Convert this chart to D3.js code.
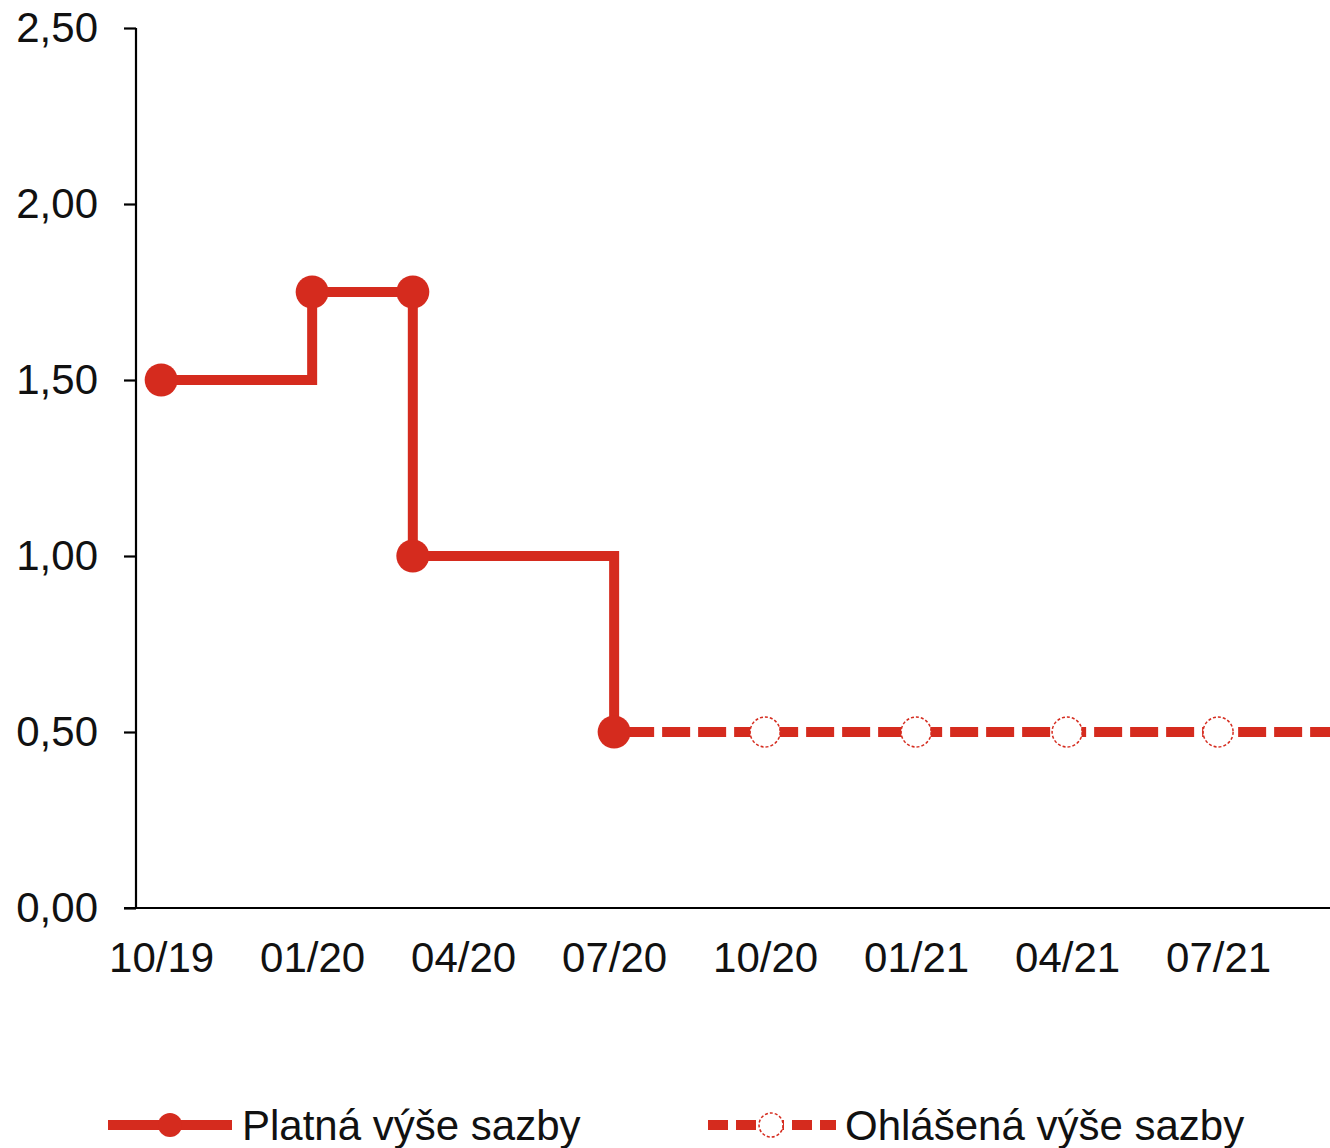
<!DOCTYPE html>
<html>
<head>
<meta charset="utf-8">
<script src="https://cdn.jsdelivr.net/npm/d3@7"></script>
<style>
  html, body { margin: 0; padding: 0; background: #fff; }
  svg { display: block; font-family: "Liberation Sans", Arial, sans-serif; }
</style>
</head>
<body>
<script>
// ---- data ----
const tickMonths = [0, 3, 6, 9, 12, 15, 18, 21];
const tickLabels = ["10/19", "01/20", "04/20", "07/20", "10/20", "01/21", "04/21", "07/21"];
const yTicks = [0, 0.5, 1.0, 1.5, 2.0, 2.5];

// valid rate (month index from 10/2019)
const platnaMonths = [0, 3, 5, 5, 9];
const platnaValues = [1.50, 1.75, 1.75, 1.00, 0.50];
const platnaMarkers = [0, 1, 2, 3, 4];

// announced rate
const ohlasenaMonths = [9, 12, 15, 18, 21, 23.5];
const ohlasenaValues = [0.50, 0.50, 0.50, 0.50, 0.50, 0.50];
const ohlasenaMarkerMonths = [12, 15, 18, 21];

const seriesNames = ["Platná výše sazby", "Ohlášená výše sazby"];

// ---- layout ----
const W = 1330, H = 1148;
const RED = "#d52b1e";
const FS = 42;
const svg = d3.select("body").append("svg").attr("width", W).attr("height", H);

const x = d3.scaleLinear().domain([-0.5, 23.5]).range([136, 136 + 24 * 50.33]);
const y = d3.scaleLinear().domain([0, 2.5]).range([908, 28]);

// y axis
const yAxis = d3.axisLeft(y).tickValues(yTicks).tickSize(12).tickPadding(26)
  .tickFormat(d => d3.format(".2f")(d).replace(".", ","));
const gy = svg.append("g").attr("transform", `translate(${x(-0.5)},0)`).call(yAxis);
gy.select(".domain").attr("stroke", "#000").attr("stroke-width", 2.2).attr("d", `M0,${y(2.5)}V${y(0)}`);
gy.selectAll(".tick line").attr("stroke", "#000").attr("stroke-width", 2.2);
gy.selectAll(".tick text").attr("font-size", FS).attr("fill", "#111")
  .attr("font-family", "Liberation Sans, Arial, sans-serif");

// x axis
const xAxis = d3.axisBottom(x).tickValues(tickMonths).tickSize(0).tickPadding(34)
  .tickFormat((d, i) => tickLabels[i]);
const gx = svg.append("g").attr("transform", `translate(0,${y(0)})`).call(xAxis);
gx.select(".domain").attr("stroke", "#000").attr("stroke-width", 2.2)
  .attr("d", `M${x(-0.5) - 12},0H${W}`);
gx.selectAll(".tick text").attr("font-size", FS).attr("fill", "#111")
  .attr("font-family", "Liberation Sans, Arial, sans-serif");

// announced dashed line
const lineLin = d3.line().x(d => x(d[0])).y(d => y(d[1]));
svg.append("path")
  .datum(ohlasenaMonths.map((m, i) => [m, ohlasenaValues[i]]))
  .attr("d", lineLin)
  .attr("fill", "none").attr("stroke", RED).attr("stroke-width", 10)
  .attr("stroke-dasharray", "28,8").attr("stroke-dashoffset", -12);

// valid step line
const stepLine = d3.line().curve(d3.curveStepAfter).x(d => x(d[0])).y(d => y(d[1]));
svg.append("path")
  .datum(platnaMonths.map((m, i) => [m, platnaValues[i]]))
  .attr("d", stepLine)
  .attr("fill", "none").attr("stroke", RED).attr("stroke-width", 10)
  .attr("stroke-linejoin", "miter");

// markers
svg.append("g").selectAll("circle").data(platnaMarkers).join("circle")
  .attr("cx", i => x(platnaMonths[i])).attr("cy", i => y(platnaValues[i]))
  .attr("r", 16.5).attr("fill", RED);

svg.append("g").selectAll("circle").data(ohlasenaMarkerMonths).join("circle")
  .attr("cx", m => x(m)).attr("cy", y(0.5))
  .attr("r", 15).attr("fill", "#fff").attr("stroke", RED)
  .attr("stroke-width", 1.5).attr("stroke-dasharray", "3,2");

// legend
const leg = svg.append("g");
const ly = 1125;
leg.append("line").attr("x1", 108).attr("x2", 232).attr("y1", ly).attr("y2", ly)
  .attr("stroke", RED).attr("stroke-width", 10);
leg.append("circle").attr("cx", 170).attr("cy", ly).attr("r", 12).attr("fill", RED);
leg.append("text").attr("x", 242).attr("y", ly + 15).attr("font-size", FS).attr("fill", "#111")
  .text(seriesNames[0]);

leg.append("line").attr("x1", 708).attr("x2", 836).attr("y1", ly).attr("y2", ly)
  .attr("stroke", RED).attr("stroke-width", 10).attr("stroke-dasharray", "20,8");
leg.append("circle").attr("cx", 771).attr("cy", ly).attr("r", 12).attr("fill", "#fff")
  .attr("stroke", RED).attr("stroke-width", 1.5).attr("stroke-dasharray", "3,2");
leg.append("text").attr("x", 845).attr("y", ly + 15).attr("font-size", FS).attr("fill", "#111")
  .text(seriesNames[1]);
</script>
</body>
</html>
